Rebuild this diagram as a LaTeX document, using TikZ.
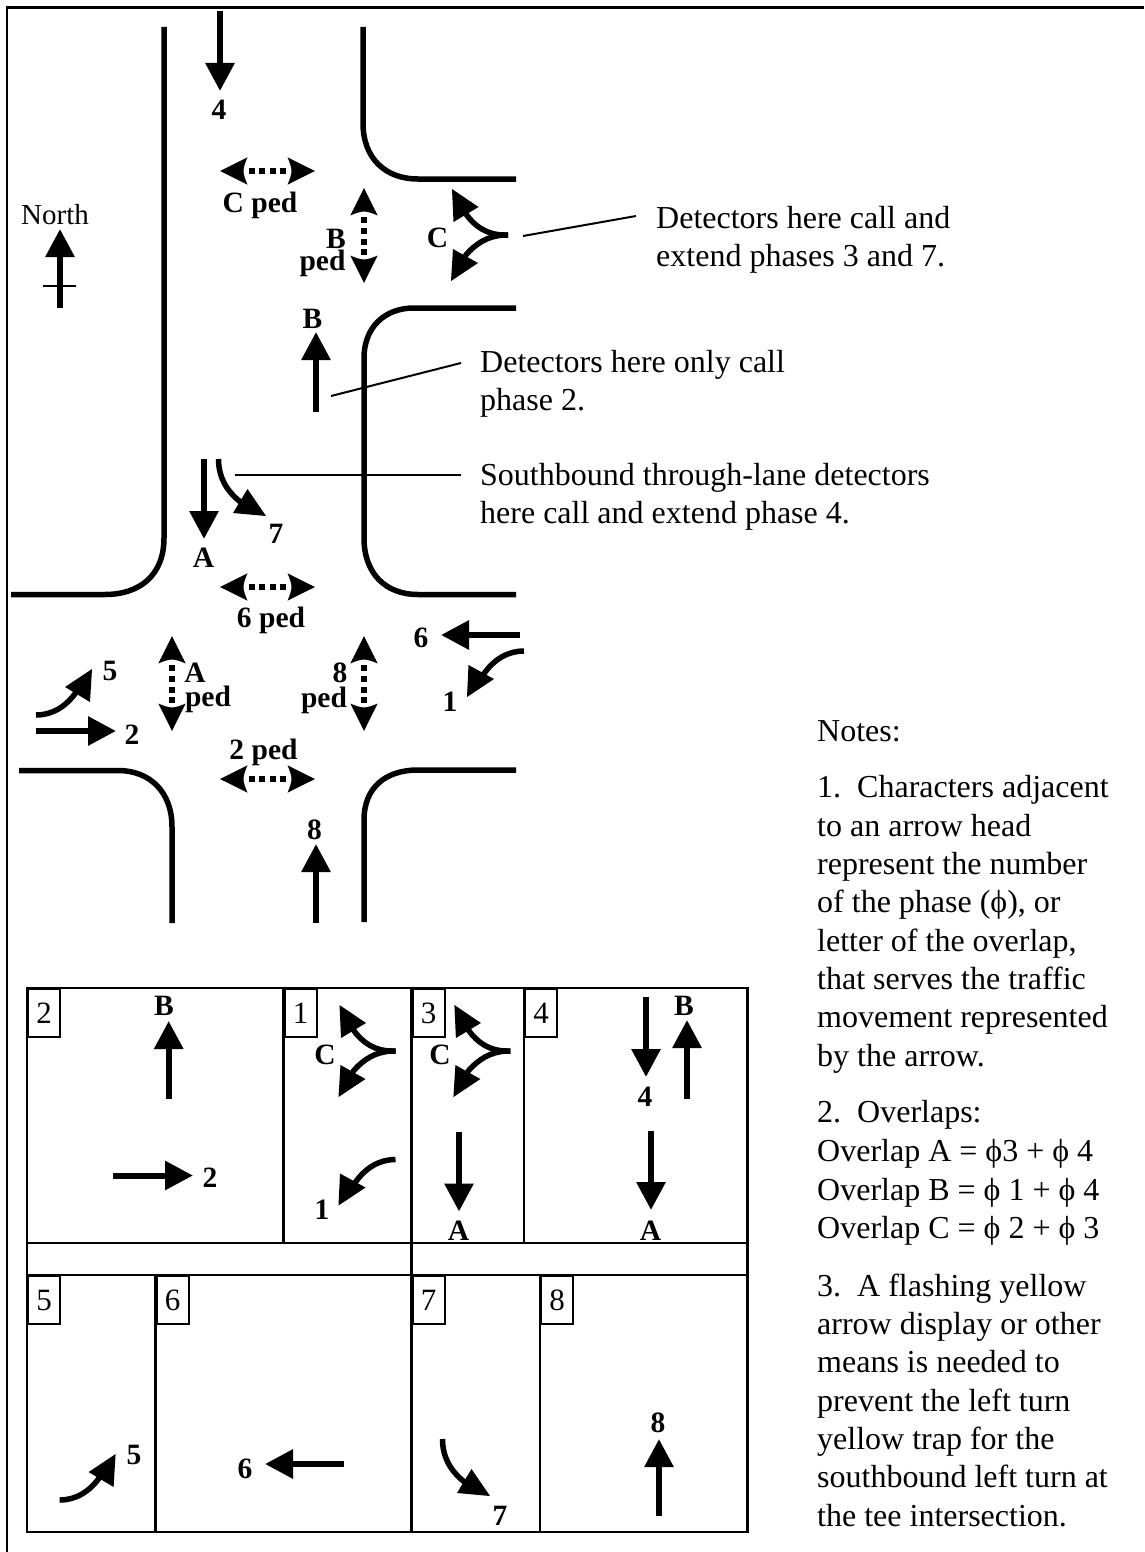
\documentclass[tikz,border=0pt]{standalone}
\usepackage{fontspec}
\setmainfont{Liberation Serif}
\usetikzlibrary{arrows.meta}
\tikzset{
  x=1pt,y=-1pt,
  road/.style={line width=5.5pt},
  arr/.style={line width=6pt,-{Triangle[length=28pt,width=28pt]}},
  crv/.style={line width=5.5pt},
  headf/.style={fill=black,draw=none},
  thinl/.style={line width=2pt},
  grid/.style={line width=2.6pt},
  lab/.style={inner sep=0pt,font=\fontsize{29.5}{29.5}\selectfont\bfseries},
  txt/.style={inner sep=0pt,anchor=base west,font=\fontsize{32}{32}\selectfont},
  small/.style={inner sep=0pt,font=\fontsize{29}{29}\selectfont},
  tag/.style={draw,line width=2pt,fill=white,anchor=north west,minimum width=32pt,minimum height=48pt,inner sep=0pt,font=\fontsize{31}{31}\selectfont},
  pedarrow/.pic={
    \fill (-47.5,0) -- (-20,-13.7) .. controls (-22,-9) and (-24,-4) .. (-24,0) .. controls (-24,4) and (-22,9) .. (-20,13.7) -- cycle;
    \fill (47.5,0) -- (20,-13.7) .. controls (22,-9) and (24,-4) .. (24,0) .. controls (24,4) and (22,9) .. (20,13.7) -- cycle;
    \foreach \a in {-19,-9,2,12.5}{\fill (\a,-3) rectangle ++(6,6);}
  },
  ccurve/.pic={
    \draw[crv] (0,0) -- (-4,0) .. controls (-20,0) and (-33,-8) .. (-42,-21);
    \fill (-56,-46) -- (-29.5,-28) -- (-54.5,-13) -- cycle;
    \draw[crv] (0,0) -- (-4,0) .. controls (-20,1) and (-32,8) .. (-43,21);
    \fill (-57,46) -- (-30,28) -- (-55,14) -- cycle;
  },
  leftone/.pic={
    \draw[crv] (0,0) .. controls (-16,0) and (-30,8) .. (-41,24);
    \fill (-57,46) -- (-30,28) -- (-55.5,14) -- cycle;
  },
  leftfive/.pic={
    \draw[crv] (0,0) .. controls (16,0) and (30,-8) .. (41,-24);
    \fill (56,-46) -- (29,-28) -- (54,-13) -- cycle;
  },
  leftseven/.pic={
    \draw[crv] (0,0) .. controls (0,18) and (8,32) .. (22,43);
    \fill (47.5,57) -- (14.5,54) -- (29,30) -- cycle;
  },
}
\begin{document}
\begin{tikzpicture}
\useasboundingbox (0,0) rectangle (1144,1552);
\fill[white] (0,0) rectangle (1144,1552);
% frame
\draw[line width=3.3pt] (1144,7.3) -- (5.8,7.3);
\draw[line width=2.6pt] (7,7.3) -- (7,1552);
% roads
\draw[road] (164,27) -- (164,538) .. controls (164,575) and (140,594.5) .. (105,594.5) -- (11,594.5);
\draw[road] (363,27) -- (363,123) .. controls (363,158) and (385,179) .. (418,179) -- (516,179);
\draw[road] (516,308) -- (414,308) .. controls (384,308) and (364,328) .. (364,358) -- (364,538) .. controls (364,573) and (385,594.5) .. (418,594.5) -- (516,594.5);
\draw[road] (19,770.5) -- (118,770.5) .. controls (150,770.5) and (172,792) .. (172,827) -- (172,923);
\draw[road] (516,770) -- (418,770) .. controls (385,770) and (364,788) .. (364,820) -- (364,922);
% intersection arrows
\draw[arr] (220,11) -- (220,91);
\node[lab] (n4) at (219,110) {4};
\pic at (267.5,171) {pedarrow};
\node[lab] (cped) at (260,205.5) {C ped};
\pic[rotate=90] at (364,235.5) {pedarrow};
\node[lab] (bp1) at (336,239) {B};
\node[lab] (bp2) at (322.5,263.5) {ped};
\node[small] (north) at (55,215) {North};
\draw[arr] (60,308) -- (60,229);
\draw[thinl] (43,286) -- (76,286);
\node[lab] (cl) at (437.5,238) {C};
\pic at (508,235) {ccurve};
\draw[thinl] (523,236) -- (636,216);
\node[txt] (d1) at (656,228) {Detectors here call and};
\node[txt] (d2) at (656,266) {extend phases 3 and 7.};
\node[lab] (bl) at (312.5,319) {B};
\draw[arr] (316,412) -- (316,332);
\draw[thinl] (331,396) -- (461,363);
\node[txt] (e1) at (480,372) {Detectors here only call};
\node[txt] (e2) at (480,410) {phase 2.};
\draw[thinl] (235,475) -- (461,475);
\node[txt] (f1) at (480,485) {Southbound through-lane detectors};
\node[txt] (f2) at (480,523) {here call and extend phase 4.};
\draw[arr] (204,459) -- (204,539);
\node[lab] (al) at (203.5,558) {A};
\pic at (218.5,459) {leftseven};
\node[lab] (s7) at (276,534) {7};
\pic at (267.5,587) {pedarrow};
\node[lab] (p6) at (271,620) {6 ped};
\pic[rotate=90] at (172,683.5) {pedarrow};
\node[lab] (ap1) at (195,673) {A};
\node[lab] (ap2) at (208,699) {ped};
\pic[rotate=90] at (364,683.5) {pedarrow};
\node[lab] (ep1) at (340,673) {8};
\node[lab] (ep2) at (324,700) {ped};
\pic at (267.5,779) {pedarrow};
\node[lab] (p2) at (263.5,752) {2 ped};
\node[lab] (s6) at (421,638) {6};
\draw[arr] (520,635) -- (441,635);
\pic at (524,651) {leftone};
\node[lab] (s1) at (450,702) {1};
\pic at (36,715) {leftfive};
\node[lab] (s5) at (110,671) {5};
\draw[arr] (36,731) -- (116,731);
\node[lab] (s2) at (132,735) {2};
\draw[arr] (316,923) -- (316,844);
\node[lab] (s8) at (314.6,830) {8};
% table
\draw[grid] (27,988) rectangle (747.5,1243);
\draw[grid] (27,1275) rectangle (747.5,1532);
\draw[grid] (411.5,988) -- (411.5,1532);
\draw[grid] (27,1243) -- (27,1275);
\draw[grid] (747.5,1243) -- (747.5,1275);
\draw[grid] (283.5,988) -- (283.5,1243);
\draw[grid] (524,988) -- (524,1243);
\draw[grid] (155.6,1275) -- (155.6,1532);
\draw[grid] (540,1275) -- (540,1532);
\node[tag] (t2) at (27,988) {2};
\node[tag] (t1) at (283.5,988) {1};
\node[tag] (t3) at (411.5,988) {3};
\node[tag] (t4) at (524,988) {4};
\node[tag] (t5) at (27,1275) {5};
\node[tag] (t6) at (155.6,1275) {6};
\node[tag] (t7) at (411.5,1275) {7};
\node[tag] (t8) at (540,1275) {8};
% table arrows
\node[lab] (tb) at (164,1006) {B};
\draw[arr] (168.7,1099) -- (168.7,1021);
\draw[arr] (113,1175.5) -- (193,1175.5);
\node[lab] (t2l) at (210,1178) {2};
\pic at (395.5,1051) {ccurve};
\node[lab] (tc1) at (325,1055) {C};
\pic at (395.5,1159.5) {leftone};
\node[lab] (t1l) at (322,1210) {1};
\pic at (510.4,1051) {ccurve};
\node[lab] (tc2) at (440,1055) {C};
\draw[arr] (459,1132) -- (459,1211.5);
\node[lab] (ta1) at (458.5,1231) {A};
\draw[arr] (646,997) -- (646,1077);
\node[lab] (t4l) at (645,1097) {4};
\draw[arr] (687,1099) -- (687,1020);
\node[lab] (tb2) at (684,1006) {B};
\draw[arr] (651,1131) -- (651,1210);
\node[lab] (ta2) at (650.5,1231) {A};
\pic at (59.6,1500) {leftfive};
\node[lab] (t5l) at (134,1455) {5};
\draw[arr] (344,1464) -- (265,1464);
\node[lab] (t6l) at (245,1468.5) {6};
\pic at (442.5,1439) {leftseven};
\node[lab] (t7l) at (500,1516) {7};
\draw[arr] (659,1516) -- (659,1439);
\node[lab] (t8l) at (658,1423) {8};
% notes
\node[txt] (a0) at (817,741) {Notes:};
\node[txt] (a1) at (817,797) {1.\ \ Characters adjacent};
\node[txt] (a2) at (817,836) {to an arrow head};
\node[txt] (a3) at (817,874) {represent the number};
\node[txt] (a4) at (817,912) {of the phase (ϕ), or};
\node[txt] (a5) at (817,951) {letter of the overlap,};
\node[txt] (a6) at (817,989) {that serves the traffic};
\node[txt] (a7) at (817,1027) {movement represented};
\node[txt] (a8) at (817,1066) {by the arrow.};
\node[txt] (b0) at (817,1122) {2.\ \ Overlaps:};
\node[txt] (b1) at (817,1161) {Overlap A = ϕ3 + ϕ 4};
\node[txt] (b2) at (817,1200) {Overlap B = ϕ 1 + ϕ 4};
\node[txt] (b3) at (817,1238) {Overlap C = ϕ 2 + ϕ 3};
\node[txt] (c0) at (817,1296) {3.\ \ A flashing yellow};
\node[txt] (c1) at (817,1334) {arrow display or other};
\node[txt] (c2) at (817,1372) {means is needed to};
\node[txt] (c3) at (817,1411) {prevent the left turn};
\node[txt] (c4) at (817,1449) {yellow trap for the};
\node[txt] (c5) at (817,1487) {southbound left turn at};
\node[txt] (c6) at (817,1526) {the tee intersection.};
\end{tikzpicture}
\end{document}
